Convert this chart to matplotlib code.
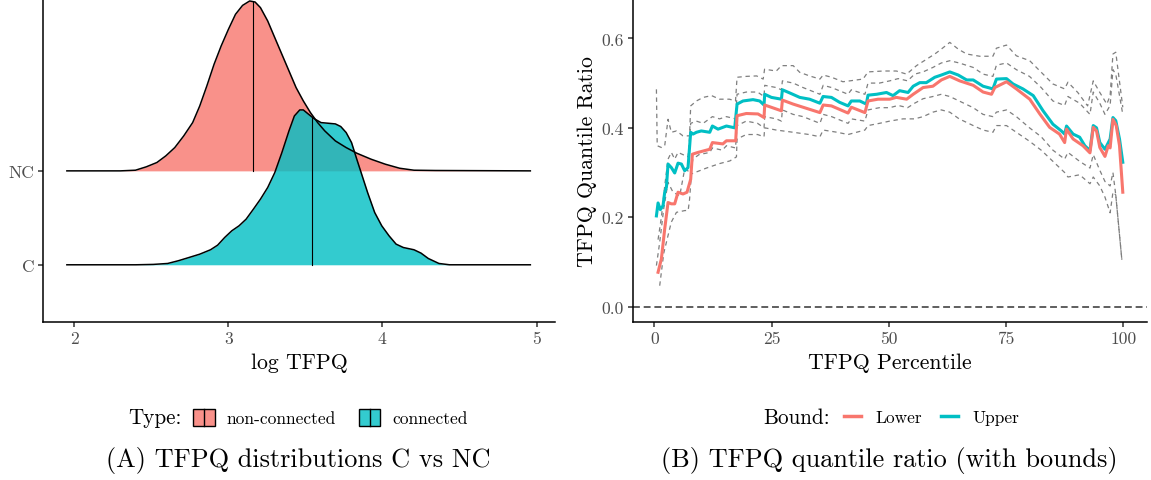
## Ridgeline of log TFPQ (C vs NC) and quantile ratio with bounds
# plot.py
import numpy as np
import matplotlib
matplotlib.use("Agg")
import matplotlib.pyplot as plt
from matplotlib.patches import Patch, Rectangle
from matplotlib.lines import Line2D
from matplotlib.legend_handler import HandlerBase

plt.rcParams['font.family'] = ['cmr10', 'DejaVu Serif']

## ---- data: panel A (ridge densities, heights in row units) ----
nc_x = [1.953, 2.30, 2.398, 2.468, 2.537, 2.595, 2.653, 2.711, 2.769, 2.815, 2.861, 2.908,
        2.954, 3.001, 3.047, 3.093, 3.139, 3.174, 3.209, 3.256, 3.302, 3.348, 3.394, 3.440,
        3.487, 3.533, 3.580, 3.626, 3.695, 3.765, 3.834, 3.927, 4.019, 4.112, 4.205, 4.344, 4.96]
nc_h = [0.0, 0.0, 0.007, 0.043, 0.089, 0.160, 0.248, 0.372, 0.514, 0.691, 0.904, 1.135,
        1.330, 1.507, 1.667, 1.762, 1.809, 1.798, 1.738, 1.596, 1.418, 1.241, 1.064, 0.887,
        0.745, 0.621, 0.514, 0.426, 0.319, 0.248, 0.188, 0.124, 0.071, 0.028, 0.007, 0.004, 0.0]
c_x = [1.953, 2.40, 2.514, 2.607, 2.676, 2.746, 2.815, 2.885, 2.931, 2.977, 3.023, 3.070,
       3.116, 3.163, 3.209, 3.256, 3.302, 3.348, 3.394, 3.429, 3.464, 3.487, 3.521, 3.556,
       3.602, 3.649, 3.695, 3.730, 3.765, 3.800, 3.834, 3.869, 3.904, 3.950, 3.996, 4.043,
       4.089, 4.136, 4.205, 4.251, 4.298, 4.367, 4.436, 4.96]
c_h = [0.0, 0.0, 0.004, 0.014, 0.043, 0.078, 0.113, 0.160, 0.209, 0.291, 0.362, 0.415,
       0.486, 0.592, 0.699, 0.823, 0.982, 1.195, 1.426, 1.585, 1.649, 1.649, 1.603, 1.557,
       1.514, 1.507, 1.500, 1.472, 1.408, 1.301, 1.124, 0.947, 0.770, 0.557, 0.415, 0.309,
       0.220, 0.184, 0.160, 0.124, 0.067, 0.014, 0.0, 0.0]
nc_median = 3.158
c_median = 3.545
ridge_labels = ["C", "NC"]
type_labels = ["non-connected", "connected"]

## ---- data: panel B (quantile ratio with bounds) ----
up_x = [0.43, 0.78, 1.27, 1.84, 2.2, 2.56, 2.91, 3.62, 4.33, 5.04, 5.76, 6.46, 7.17, 7.74,
        8.24, 8.96, 10.0, 11.8, 12.37, 13.57, 15.36, 17.13, 17.63, 18.9, 21.03, 22.46, 23.38,
        23.53, 24.96, 27.09, 27.3, 28.86, 31.0, 33.1, 35.3, 35.97, 37.76, 39.5, 41.3, 42.0,
        43.8, 45.2, 45.56, 47.4, 49.5, 50.9, 52.3, 54.1, 55.2, 56.6, 58.0, 59.8, 61.2, 63.0,
        64.8, 66.6, 68.0, 70.1, 72.2, 72.95, 75.1, 76.5, 78.6, 80.8, 82.9, 85.0, 86.8, 87.5,
        87.9, 89.3, 90.7, 91.8, 92.9, 93.6, 94.3, 95.0, 96.1, 97.2, 97.8, 98.4, 99.2, 99.9]
up_y = [0.203, 0.232, 0.217, 0.226, 0.256, 0.267, 0.319, 0.311, 0.299, 0.321, 0.319, 0.304,
        0.311, 0.39, 0.386, 0.39, 0.393, 0.39, 0.404, 0.397, 0.404, 0.40, 0.453, 0.46, 0.463,
        0.46, 0.451, 0.475, 0.468, 0.464, 0.485, 0.478, 0.468, 0.464, 0.455, 0.47, 0.468,
        0.457, 0.449, 0.46, 0.46, 0.453, 0.473, 0.475, 0.479, 0.472, 0.483, 0.479, 0.493,
        0.501, 0.501, 0.513, 0.518, 0.525, 0.518, 0.507, 0.507, 0.493, 0.487, 0.509, 0.51,
        0.498, 0.487, 0.472, 0.438, 0.408, 0.393, 0.386, 0.404, 0.386, 0.379, 0.36, 0.349,
        0.405, 0.40, 0.367, 0.352, 0.375, 0.423, 0.416, 0.375, 0.323]
lo_x = [0.78, 1.49, 2.2, 2.91, 3.62, 4.33, 5.04, 6.1, 6.96, 7.74, 8.1, 9.3, 11.8, 12.37,
        14.6, 15.36, 17.34, 17.63, 19.6, 22.1, 23.38, 23.53, 26.0, 27.09, 27.3, 29.6, 31.7,
        35.3, 36.0, 37.76, 41.3, 42.0, 44.9, 45.56, 47.7, 50.2, 51.6, 53.8, 55.2, 57.3, 59.4,
        61.2, 63.0, 65.1, 68.0, 70.1, 71.9, 72.6, 75.1, 77.2, 80.05, 82.2, 84.3, 86.4, 87.5,
        87.9, 89.3, 91.4, 92.9, 93.6, 94.3, 95.0, 96.1, 96.8, 97.2, 97.8, 98.5, 99.2, 99.9]
lo_y = [0.077, 0.107, 0.174, 0.233, 0.23, 0.23, 0.256, 0.252, 0.256, 0.285, 0.341, 0.345,
        0.352, 0.367, 0.364, 0.371, 0.371, 0.427, 0.432, 0.431, 0.423, 0.451, 0.442, 0.438,
        0.462, 0.453, 0.446, 0.434, 0.451, 0.449, 0.433, 0.446, 0.434, 0.46, 0.464, 0.464,
        0.468, 0.464, 0.475, 0.49, 0.493, 0.507, 0.515, 0.505, 0.495, 0.48, 0.475, 0.49,
        0.503, 0.487, 0.464, 0.431, 0.401, 0.386, 0.367, 0.397, 0.375, 0.36, 0.344, 0.401,
        0.393, 0.356, 0.336, 0.36, 0.355, 0.419, 0.405, 0.36, 0.256]

## dashed bound lines (outer/inner above, inner/outer below)
d1_x = [0.43, 0.6, 1.49, 2.2, 2.91, 3.62, 4.7, 6.1, 7.5, 7.74, 8.96, 10.4, 12.2, 13.9, 16.0,
        17.3, 17.63, 19.6, 21.8, 23.2, 23.5, 26.0, 27.1, 29.6, 31.0, 33.1, 35.3, 36.0, 37.8,
        40.2, 41.7, 44.5, 45.56, 48.8, 51.6, 53.8, 55.9, 58.0, 59.8, 61.2, 63.0, 64.8, 66.6,
        69.4, 72.2, 72.95, 75.1, 77.2, 80.05, 82.9, 85.0, 87.5, 88.2, 90.3, 92.4, 93.6, 95.0,
        96.5, 97.2, 97.8, 98.4, 99.9]
d1_y = [0.486, 0.36, 0.356, 0.36, 0.419, 0.39, 0.393, 0.382, 0.382, 0.449, 0.46, 0.468,
        0.472, 0.464, 0.464, 0.46, 0.513, 0.515, 0.516, 0.509, 0.531, 0.527, 0.539, 0.539,
        0.524, 0.516, 0.509, 0.518, 0.513, 0.503, 0.505, 0.509, 0.525, 0.527, 0.527, 0.52,
        0.539, 0.553, 0.565, 0.576, 0.591, 0.576, 0.565, 0.56, 0.56, 0.578, 0.585, 0.561,
        0.55, 0.52, 0.498, 0.487, 0.502, 0.479, 0.449, 0.505, 0.479, 0.453, 0.472, 0.565,
        0.569, 0.446]
d2_x = [0.78, 1.49, 2.2, 2.91, 3.62, 4.33, 5.04, 6.1, 7.17, 7.74, 8.96, 10.4, 12.37, 13.9,
        15.36, 17.3, 17.63, 19.6, 22.0, 23.38, 23.53, 26.0, 27.09, 27.3, 29.6, 31.7, 35.3,
        36.0, 37.8, 41.3, 42.0, 44.9, 45.56, 48.0, 50.2, 52.0, 54.0, 55.5, 57.3, 59.4, 61.2,
        63.0, 65.0, 68.0, 70.1, 72.2, 72.95, 75.1, 77.2, 80.0, 82.5, 85.0, 87.5, 88.2, 90.7,
        92.9, 93.6, 95.0, 96.1, 97.2, 97.8, 98.4, 99.9]
d2_y = [0.15, 0.2, 0.27, 0.33, 0.345, 0.33, 0.345, 0.34, 0.335, 0.41, 0.415, 0.41, 0.425,
        0.42, 0.425, 0.42, 0.475, 0.48, 0.48, 0.47, 0.495, 0.49, 0.485, 0.505, 0.50, 0.49,
        0.475, 0.495, 0.49, 0.475, 0.485, 0.475, 0.50, 0.50, 0.505, 0.51, 0.505, 0.52, 0.525,
        0.535, 0.545, 0.55, 0.545, 0.535, 0.52, 0.515, 0.54, 0.545, 0.53, 0.515, 0.49, 0.46,
        0.45, 0.47, 0.455, 0.43, 0.48, 0.455, 0.43, 0.45, 0.53, 0.52, 0.43]
d3_x = [0.43, 1.13, 2.0, 2.91, 3.97, 5.4, 6.46, 7.74, 8.2, 9.5, 11.8, 12.37, 14.5, 15.36,
        17.3, 17.63, 19.6, 22.0, 23.38, 23.53, 26.0, 27.09, 27.3, 29.6, 31.7, 35.3, 36.0,
        37.8, 41.3, 42.0, 44.9, 45.56, 48.0, 50.2, 52.0, 54.0, 55.5, 57.3, 59.4, 61.2, 63.0,
        65.0, 68.0, 70.1, 72.2, 72.95, 75.1, 77.2, 80.0, 82.5, 85.0, 87.5, 88.2, 90.7, 92.9,
        93.6, 95.0, 96.1, 97.2, 97.8, 98.4, 99.7]
d3_y = [0.092, 0.144, 0.22, 0.278, 0.256, 0.248, 0.308, 0.30, 0.33, 0.34, 0.345, 0.355,
        0.35, 0.36, 0.355, 0.405, 0.415, 0.41, 0.40, 0.425, 0.42, 0.415, 0.44, 0.43, 0.425,
        0.41, 0.43, 0.425, 0.41, 0.42, 0.415, 0.44, 0.445, 0.445, 0.45, 0.445, 0.455, 0.465,
        0.47, 0.475, 0.47, 0.46, 0.445, 0.43, 0.425, 0.435, 0.44, 0.425, 0.40, 0.38, 0.35,
        0.33, 0.345, 0.325, 0.31, 0.34, 0.305, 0.28, 0.27, 0.30, 0.25, 0.105]
d4_x = [1.13, 2.0, 3.6, 4.7, 6.5, 7.2, 7.5, 7.9, 11.1, 13.9, 16.1, 17.5, 17.63, 19.6, 22.0,
        23.38, 23.53, 26.0, 29.6, 33.0, 35.3, 36.0, 39.0, 41.3, 44.9, 45.56, 48.0, 50.2, 53.0,
        55.5, 57.3, 59.4, 61.2, 63.0, 65.0, 68.0, 70.1, 72.2, 72.95, 75.1, 77.2, 80.0, 82.5,
        85.0, 87.5, 88.2, 90.7, 92.9, 93.6, 95.0, 96.1, 97.2, 97.8, 98.4, 99.7]
d4_y = [0.047, 0.12, 0.189, 0.211, 0.215, 0.215, 0.24, 0.297, 0.31, 0.32, 0.326, 0.335,
        0.375, 0.385, 0.385, 0.38, 0.40, 0.395, 0.39, 0.385, 0.38, 0.395, 0.39, 0.385, 0.395,
        0.405, 0.41, 0.415, 0.42, 0.42, 0.425, 0.435, 0.44, 0.435, 0.42, 0.405, 0.395, 0.39,
        0.405, 0.405, 0.39, 0.37, 0.35, 0.325, 0.30, 0.29, 0.295, 0.275, 0.29, 0.27, 0.245,
        0.21, 0.256, 0.25, 0.105]
bound_labels = ["Lower", "Upper"]

xticks_b = [0, 25, 50, 75, 100]
yticks_b = [0.0, 0.2, 0.4, 0.6]
yticklabels_b = ["0.0", "0.2", "0.4", "0.6"]

## ---- styling ----
red = "#F8766D"
teal = "#00BFC4"
tick_col = "#4D4D4D"
W, H = 1151.0, 481.0

def style_axes(ax):
    for s in ["top", "right"]:
        ax.spines[s].set_visible(False)
    for s in ["left", "bottom"]:
        ax.spines[s].set_linewidth(1.1)
        ax.spines[s].set_color("black")
    ax.tick_params(length=3.6, width=1.1, color="#333333", labelcolor=tick_col,
                   labelsize=12.6, pad=3)

## Legend key for the ridges: filled box with the median bar in the middle
class RidgeKey(HandlerBase):
    def create_artists(self, legend, orig_handle, xdescent, ydescent, width, height,
                       fontsize, trans):
        r = Rectangle((-xdescent, -ydescent), width, height,
                      facecolor=orig_handle.get_facecolor(), edgecolor="black",
                      lw=1.0, transform=trans)
        mid = -xdescent + width / 2.0
        l = Line2D([mid, mid], [-ydescent, -ydescent + height], color="black",
                   lw=1.0, transform=trans)
        return [r, l]

fig = plt.figure(figsize=(W / 100, H / 100), dpi=100)
ax1 = fig.add_axes([43.3 / W, 1 - 322.7 / H, (555 - 43.3) / W, 322.7 / H])
ax2 = fig.add_axes([633.3 / W, 1 - 322.7 / H, (1146.7 - 633.3) / W, 322.7 / H])

## Panel A: ridgelines (NC drawn first, C over it)
ridges = [(2, nc_x, nc_h, red, nc_median), (1, c_x, c_h, teal, c_median)]
for base, xs, hs, col, med in ridges:
    xs = np.array(xs)
    hs = np.array(hs)
    ax1.fill_between(xs, base, base + hs, color=col, alpha=0.8, lw=0)
    ax1.plot(xs, base + hs, color="black", lw=1.1, solid_joinstyle="round")
    ax1.plot([med, med], [base, base + np.interp(med, xs, hs)], color="black", lw=0.8)

ax1.set_xlim(1.80, 5.12)
ax1.set_ylim(0.394, 3.83)
ax1.set_xticks([2, 3, 4, 5])
ax1.set_yticks([1, 2])
ax1.set_yticklabels(ridge_labels)
style_axes(ax1)
ax1.set_xlabel("log TFPQ", fontsize=15.7)
ax1.xaxis.set_label_coords(0.5, -0.095)

## Panel B: quantile ratio lines
dash_kw = dict(color="#7F7F7F", lw=0.9, ls=(0, (3.5, 3.0)))
for xs, ys in [(d1_x, d1_y), (d2_x, d2_y), (d3_x, d3_y), (d4_x, d4_y)]:
    ax2.plot(xs, ys, **dash_kw)
ax2.axhline(0, color="#333333", lw=1.1, ls=(0, (4.5, 2.5)))
ax2.plot(up_x, up_y, color=teal, lw=2.2)
ax2.plot(lo_x, lo_y, color=red, lw=2.2)

ax2.set_xlim(-4.5, 105.0)
ax2.set_ylim(-0.0335, 0.688)
ax2.set_xticks(xticks_b)
ax2.set_yticks(yticks_b)
ax2.set_yticklabels(yticklabels_b)
style_axes(ax2)
ax2.set_xlabel("TFPQ Percentile", fontsize=15.7)
ax2.xaxis.set_label_coords(0.5, -0.095)
ax2.set_ylabel("TFPQ Quantile Ratio", fontsize=15.7)
ax2.yaxis.set_label_coords(-0.07, 0.5)

## Legends
leg_y = 1 - 418.5 / H
fig.text(128.5 / W, leg_y, "Type:", fontsize=15.2, ha="left", va="center")
h_nc = Patch(facecolor=(0.973, 0.463, 0.427, 0.8))
h_c = Patch(facecolor=(0.0, 0.749, 0.769, 0.8))
fig.legend([h_nc, h_c], type_labels, loc="center left", bbox_to_anchor=(193 / W, leg_y),
           ncol=2, frameon=False, fontsize=12.5, handlelength=1.25, handleheight=1.2,
           handletextpad=0.7, columnspacing=1.3, borderpad=0, borderaxespad=0,
           handler_map={Patch: RidgeKey()})

fig.text(763.6 / W, leg_y, "Bound:", fontsize=15.2, ha="left", va="center")
h_lo = Line2D([], [], color=red, lw=2.5)
h_up = Line2D([], [], color=teal, lw=2.5)
fig.legend([h_lo, h_up], bound_labels, loc="center left", bbox_to_anchor=(844 / W, leg_y),
           ncol=2, frameon=False, fontsize=12.5, handlelength=1.0,
           handletextpad=0.8, columnspacing=1.1, borderpad=0, borderaxespad=0)

## Captions
cap_y = 1 - 460 / H
fig.text(298.5 / W, cap_y, "(A) TFPQ distributions C vs NC", fontsize=18.9,
         ha="center", va="center")
fig.text(889.5 / W, cap_y, "(B) TFPQ quantile ratio (with bounds)", fontsize=18.9,
         ha="center", va="center")

fig.savefig("out.png", dpi=100)
